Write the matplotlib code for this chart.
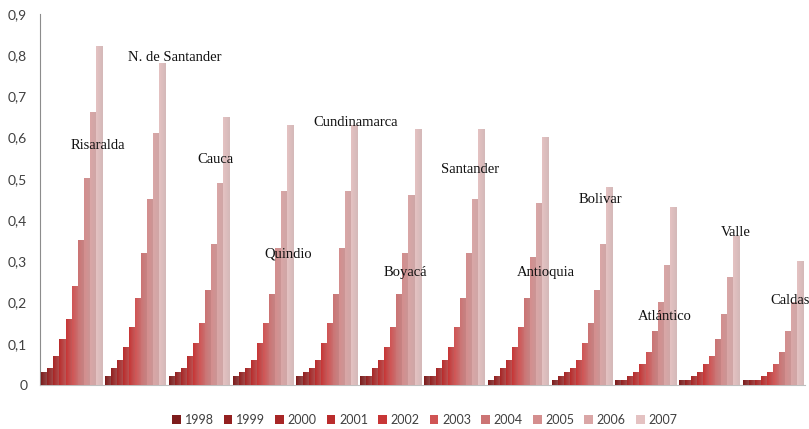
import numpy as np
import matplotlib
matplotlib.use("Agg")
import matplotlib.pyplot as plt
from matplotlib.patches import Patch
from matplotlib.colors import to_rgb

regions = ["Risaralda", "N. de Santander", "Cauca", "Quindio", "Cundinamarca",
           "Boyacá", "Santander", "Antioquia", "Bolivar", "Atlántico", "Valle", "Caldas"]
years = ["1998", "1999", "2000", "2001", "2002", "2003", "2004", "2005", "2006", "2007"]

v1998 = [0.03, 0.02, 0.02, 0.02, 0.02, 0.02, 0.02, 0.01, 0.01, 0.01, 0.01, 0.01]
v1999 = [0.04, 0.04, 0.03, 0.03, 0.03, 0.02, 0.02, 0.02, 0.02, 0.01, 0.01, 0.01]
v2000 = [0.07, 0.06, 0.04, 0.04, 0.04, 0.04, 0.04, 0.04, 0.03, 0.02, 0.02, 0.01]
v2001 = [0.11, 0.09, 0.07, 0.06, 0.06, 0.06, 0.06, 0.06, 0.04, 0.03, 0.03, 0.02]
v2002 = [0.16, 0.14, 0.10, 0.10, 0.10, 0.09, 0.09, 0.09, 0.06, 0.05, 0.05, 0.03]
v2003 = [0.24, 0.21, 0.15, 0.15, 0.15, 0.14, 0.14, 0.14, 0.10, 0.08, 0.07, 0.05]
v2004 = [0.35, 0.32, 0.23, 0.22, 0.22, 0.22, 0.21, 0.21, 0.15, 0.13, 0.11, 0.08]
v2005 = [0.50, 0.45, 0.34, 0.33, 0.33, 0.32, 0.32, 0.31, 0.23, 0.20, 0.17, 0.13]
v2006 = [0.66, 0.61, 0.49, 0.47, 0.47, 0.46, 0.45, 0.44, 0.34, 0.29, 0.26, 0.20]
v2007 = [0.82, 0.78, 0.65, 0.63, 0.63, 0.62, 0.62, 0.60, 0.48, 0.43, 0.36, 0.30]
series = [v1998, v1999, v2000, v2001, v2002, v2003, v2004, v2005, v2006, v2007]

colors = ["#7e1c1c", "#942020", "#a82626", "#ba2c2c", "#c83636", "#d05454",
          "#cc7474", "#d48e8e", "#daa6a6", "#e4c2c2"]

# label positions (x in category units, y in data units)
label_x = [0.41, 1.62, 2.25, 3.39, 4.45, 5.23, 6.25, 7.43, 8.29, 9.31, 10.41, 11.27]
label_y = [0.58, 0.795, 0.546, 0.318, 0.636, 0.274, 0.522, 0.272, 0.451, 0.165, 0.371, 0.206]

fig = plt.figure(figsize=(8.09, 4.29), dpi=100)
ax = fig.add_axes([0.049, 0.1026, 0.946, 0.8648])

n = len(regions)
x = np.arange(n)
bw = 0.0945
gray = np.array([0.72, 0.66, 0.66])
for i, (vals, c) in enumerate(zip(series, colors)):
    offs = (i - 4.5) * bw
    base = np.array(to_rgb(c))
    t = np.linspace(0, 1, 12)[None, :, None]
    grad = base[None, None, :] * (1 - 0.35 * t) + gray[None, None, :] * 0.35 * t
    # soft shadow
    ax.bar(x + offs + 0.01, vals, width=bw, color="#e2e2e2", zorder=1, linewidth=0)
    bars = ax.bar(x + offs, vals, width=bw, color=c, zorder=2, linewidth=0)
    for b in bars:
        x0, w, h = b.get_x(), b.get_width(), b.get_height()
        ax.imshow(grad, extent=[x0, x0 + w, 0, h], aspect="auto",
                  interpolation="bilinear", zorder=3)

for name, lx, ly in zip(regions, label_x, label_y):
    ax.text(lx, ly, name, ha="center", va="center", fontsize=10.5,
            family="Liberation Serif", color="#111111", zorder=5)

ax.set_xlim(-0.5, n - 0.5)
ax.set_ylim(0, 0.9)
ax.set_yticks(np.arange(0, 0.91, 0.1))
ax.set_yticklabels(["0"] + [f"0,{k}" for k in range(1, 10)], family="Lato",
                   fontsize=10, color="#404040")
ax.set_xticks([])
ax.tick_params(axis="y", length=0, pad=9)
for s in ["top", "right"]:
    ax.spines[s].set_visible(False)
ax.spines["left"].set_color("#8c8c8c")
ax.spines["bottom"].set_color("#bfbfbf")

handles = [Patch(facecolor=c, edgecolor="none", label=y) for c, y in zip(colors, years)]
fig.legend(handles=handles, loc="center", bbox_to_anchor=(0.525, 0.021), ncol=10,
           frameon=False, handlelength=0.7, handleheight=0.7, handletextpad=0.3,
           columnspacing=0.8, prop={"family": "Lato", "size": 9},
           labelcolor="#404040")

fig.savefig("out.png", dpi=100)
